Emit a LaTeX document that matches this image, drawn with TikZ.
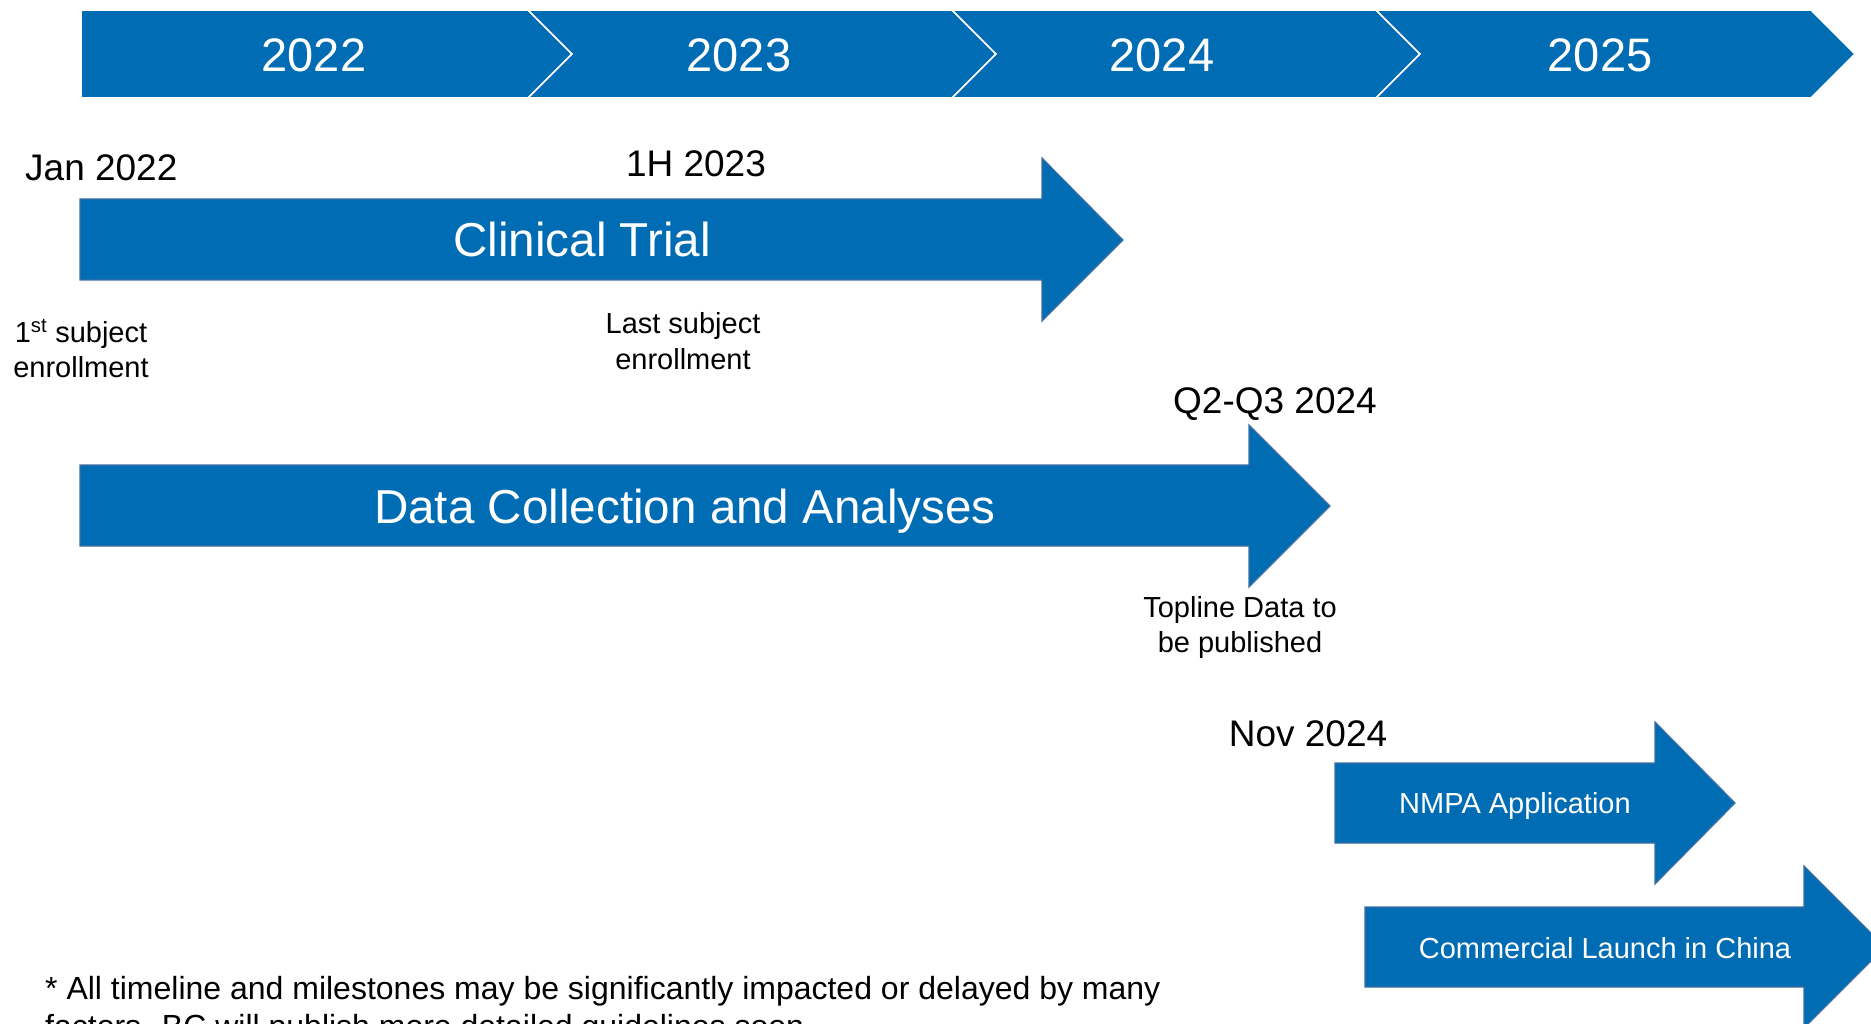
\documentclass[tikz,border=0pt]{standalone}
\usepackage{fontspec}
\setmainfont{Liberation Sans}
\definecolor{barblue}{HTML}{006CB4}
\definecolor{edgeblue}{HTML}{3F6FA0}
\begin{document}
\begin{tikzpicture}[x=1pt,y=-1pt,
  yearseg/.style={fill=barblue,draw=white,line width=1.6pt,line join=miter},
  bigarrow/.style={fill=barblue,draw=edgeblue,line width=1.2pt,line join=miter},
  yearlabel/.style={anchor=base,inner sep=0pt,text=white,font=\fontsize{47}{56}\selectfont},
  arrowlabel/.style={anchor=base,inner sep=0pt,text=white,font=\fontsize{47.6}{56}\selectfont},
  smallarrowlabel/.style={anchor=base,inner sep=0pt,text=white,font=\fontsize{29}{35}\selectfont},
  datelabel/.style={anchor=base,inner sep=0pt,text=black,font=\fontsize{37}{44}\selectfont},
  notelabel/.style={anchor=base,inner sep=0pt,text=black,font=\fontsize{29}{35}\selectfont},
  footlabel/.style={anchor=base west,inner sep=0pt,text=black,font=\fontsize{32}{38}\selectfont}]
\useasboundingbox (0,0) rectangle (1871,1024);
\fill[white] (0,0) rectangle (1871,1024);
\clip (0,0) rectangle (1871,1024);

% year chevron bar
\draw[yearseg] (81,10) -- (528,10) -- (572,54) -- (528,98) -- (81,98) -- cycle;
\draw[yearseg] (528,10) -- (952,10) -- (996,54) -- (952,98) -- (528,98) -- (572,54) -- cycle;
\draw[yearseg] (952,10) -- (1376,10) -- (1420,54) -- (1376,98) -- (952,98) -- (996,54) -- cycle;
\draw[yearseg] (1376,10) -- (1811,10) -- (1855,54) -- (1811,98) -- (1376,98) -- (1420,54) -- cycle;
\node[yearlabel] (y22) at (314,72) {2022};
\node[yearlabel] (y23) at (739,72) {2023};
\node[yearlabel] (y24) at (1162,72) {2024};
\node[yearlabel] (y25) at (1600,72) {2025};

% Clinical trial
\draw[bigarrow] (80,199) -- (1042,199) -- (1042,158) -- (1123,240) -- (1042,321) -- (1042,280) -- (80,280) -- cycle;
\node[arrowlabel] (ct) at (582,257) {Clinical Trial};
\node[datelabel,anchor=base west] (jan) at (25,181) {Jan 2022};
\node[datelabel] (h1) at (696,177) {1H 2023};
\node[notelabel] (fs1) at (81,342) {1\textsuperscript{st} subject};
\node[notelabel] (fs2) at (81,377) {enrollment};
\node[notelabel] (ls1) at (683,334) {Last subject};
\node[notelabel] (ls2) at (683,369) {enrollment};

% Data collection
\draw[bigarrow] (80,465) -- (1249,465) -- (1249,425) -- (1330,506) -- (1249,587) -- (1249,546) -- (80,546) -- cycle;
\node[arrowlabel] (dc) at (685,523) {Data Collection and Analyses};
\node[datelabel] (q23) at (1275,413) {Q2-Q3 2024};
\node[notelabel] (tp1) at (1240,617) {Topline Data to};
\node[notelabel] (tp2) at (1240,652) {be published};

% NMPA
\draw[bigarrow] (1335,763) -- (1655,763) -- (1655,722) -- (1735,803) -- (1655,884) -- (1655,843) -- (1335,843) -- cycle;
\node[smallarrowlabel] (nm) at (1515,813) {NMPA Application};
\node[datelabel] (nov) at (1308,746) {Nov 2024};

% Commercial launch
\draw[bigarrow] (1365,907) -- (1804,907) -- (1804,866) -- (1885,947) -- (1804,1028) -- (1804,987) -- (1365,987) -- cycle;
\node[smallarrowlabel] (cl) at (1605,958) {Commercial Launch in China};

% footnote
\node[footlabel] (fn1) at (45,999) {* All timeline and milestones may be significantly impacted or delayed by many};
\node[footlabel] (fn2) at (45,1037) {factors. BC will publish more detailed guidelines soon.};
\end{tikzpicture}
\end{document}
